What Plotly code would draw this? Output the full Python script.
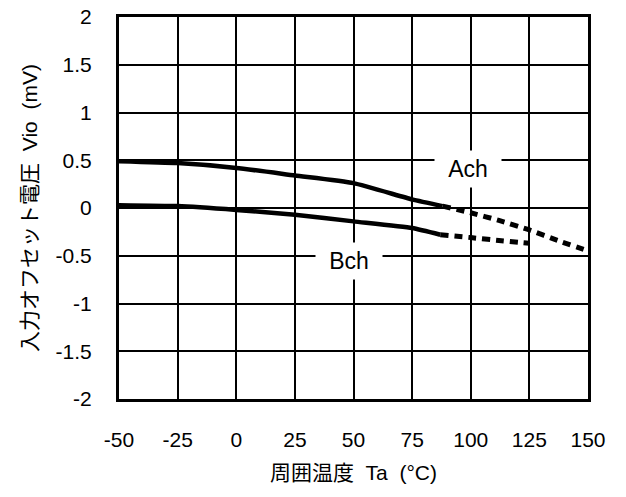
import plotly.graph_objects as go

# Data
temp_a_solid = [-50, -25, 0, 25, 50, 75, 88]
vio_a_solid = [0.49, 0.47, 0.42, 0.34, 0.26, 0.09, 0.02]
temp_a_dash = [88, 100, 112, 125, 137, 150]
vio_a_dash = [0.02, -0.05, -0.13, -0.23, -0.34, -0.45]

temp_b_solid = [-50, -25, 0, 25, 50, 75, 87]
vio_b_solid = [0.03, 0.02, -0.02, -0.07, -0.14, -0.21, -0.28]
temp_b_dash = [87, 100, 112, 125]
vio_b_dash = [-0.28, -0.31, -0.34, -0.37]

x_ticks = [-50, -25, 0, 25, 50, 75, 100, 125, 150]
x_ticktext = ["-50", "-25", "0", "25", "50", "75", "100", "125", "150"]
y_ticks = [2, 1.5, 1, 0.5, 0, -0.5, -1, -1.5, -2]
y_ticktext = ["2", "1.5", "1", "0.5", "0", "-0.5", "-1", "-1.5", "-2"]

labels = ["Ach", "Bch"]
label_x = [99, 48]
label_y = [0.41, -0.56]

FONT = "Liberation Sans, Arial, Noto Sans CJK JP, sans-serif"

fig = go.Figure()
for xs, ys, dash, w in [
    (temp_a_solid, vio_a_solid, "solid", 4.5),
    (temp_a_dash, vio_a_dash, "8px,6px", 5),
    (temp_b_solid, vio_b_solid, "solid", 4.5),
    (temp_b_dash, vio_b_dash, "8px,6px", 5),
]:
    fig.add_trace(go.Scatter(
        x=xs, y=ys, mode="lines",
        line=dict(color="black", width=w, dash=dash, shape="spline", smoothing=0.5),
        showlegend=False, hoverinfo="skip",
    ))

for t, lx, ly in zip(labels, label_x, label_y):
    fig.add_annotation(
        x=lx, y=ly, text=t, showarrow=False,
        font=dict(family=FONT, size=23, color="black"),
        bgcolor="white", width=66, height=36, borderpad=0,
    )

fig.update_layout(
    width=626, height=497,
    margin=dict(l=119, r=38, t=17, b=98),
    paper_bgcolor="white", plot_bgcolor="white",
    font=dict(family=FONT, size=21, color="black"),
)
fig.update_xaxes(
    range=[-50, 150], tickvals=x_ticks, ticktext=x_ticktext,
    showgrid=True, gridcolor="black", gridwidth=2,
    showline=True, linecolor="black", linewidth=3, mirror=True,
    zeroline=False, ticks="", ticklabelstandoff=20, automargin=False,
    title=dict(text="周囲温度\u00a0\u00a0Ta\u00a0\u00a0(°C)", standoff=16,
               font=dict(family=FONT, size=21)),
)
fig.update_yaxes(
    range=[-2, 2], tickvals=y_ticks, ticktext=y_ticktext,
    showgrid=True, gridcolor="black", gridwidth=2,
    showline=True, linecolor="black", linewidth=3, mirror=True,
    zeroline=False, ticks="", ticklabelstandoff=20, automargin=False,
    title=dict(text="入力オフセット電圧\u00a0\u00a0Vio\u00a0\u00a0(mV)", standoff=13,
               font=dict(family=FONT, size=21)),
)

fig.write_html("out.html", config={"displayModeBar": False},
               post_script="document.body.style.margin='0';")
